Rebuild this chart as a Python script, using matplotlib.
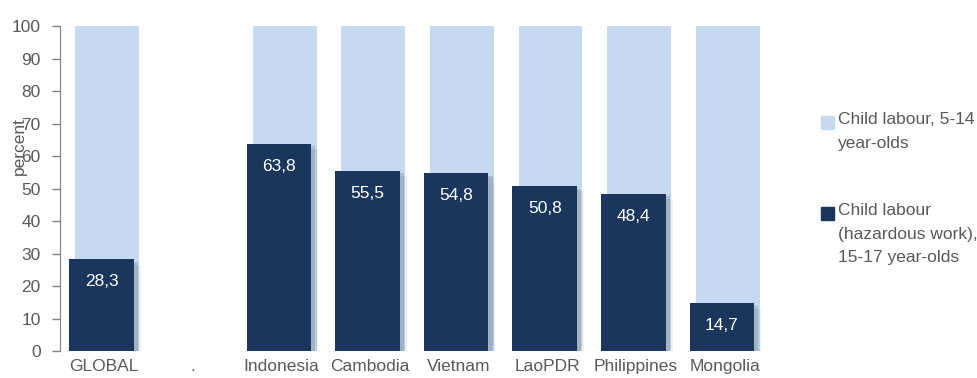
import matplotlib.pyplot as plt
import matplotlib.patheffects as pe
from matplotlib.patches import Rectangle
import numpy as np

plt.rcParams['font.family'] = ['Liberation Sans Narrow', 'Liberation Sans', 'DejaVu Sans']

countries = ['GLOBAL', '.', 'Indonesia', 'Cambodia', 'Vietnam', 'LaoPDR', 'Philippines', 'Mongolia']
child_labour_5_14 = [100, None, 100, 100, 100, 100, 100, 100]
hazardous_15_17 = [28.3, None, 63.8, 55.5, 54.8, 50.8, 48.4, 14.7]

LIGHT = '#c6d9f0'
DARK = '#1a365d'
GREY = '#595959'
FS = 12.5

fig = plt.figure(figsize=(9.77, 3.78), dpi=100)
ax = fig.add_axes([0.0614, 0.0714, 0.7256, 0.8598])

x = np.arange(len(countries))
idx = [i for i, v in enumerate(hazardous_15_17) if v is not None]
light = [child_labour_5_14[i] for i in idx]
dark = [hazardous_15_17[i] for i in idx]
xi = x[idx]

ax.bar(xi + 0.035, light, width=0.72, color=LIGHT, zorder=1)
bars = ax.bar(xi - 0.03, dark, width=0.73, color=DARK, zorder=2)
for b in bars:
    b.set_path_effects([pe.SimplePatchShadow(offset=(3, -2), shadow_rgbFace='#000000', alpha=0.12),
                        pe.SimplePatchShadow(offset=(5, -4), shadow_rgbFace='#000000', alpha=0.06),
                        pe.Normal()])

for xp, v in zip(xi, dark):
    ax.text(xp - 0.03, v - 7, f'{v:.1f}'.replace('.', ','), ha='center', va='center',
            color='white', fontsize=FS, zorder=3)

ax.set_xlim(-0.5, 7.5)
ax.set_ylim(0, 100)
ax.set_yticks(range(0, 101, 10))
ax.set_xticks(x)
ax.set_xticklabels(countries)
ax.tick_params(axis='x', length=0, pad=6, labelsize=FS, labelcolor=GREY)
ax.tick_params(axis='y', length=6, width=1, color='#808080', pad=8, labelsize=FS, labelcolor=GREY)
for s in ['top', 'right', 'bottom']:
    ax.spines[s].set_visible(False)
ax.spines['left'].set_color('#808080')
ax.set_ylabel('percent', fontsize=FS, color=GREY)
ax.yaxis.set_label_coords(-0.047, 0.63)

# legend drawn by hand so the squares sit beside the first line
W, H = 977, 378
entries = [(LIGHT, 'Child labour, 5-14\nyear-olds', 116),
           (DARK, 'Child labour\n(hazardous work),\n15-17 year-olds', 207)]
for col, label, ytop in entries:
    fig.patches.append(Rectangle((821 / W, 1 - (ytop + 13) / H), 13 / W, 13 / H,
                                 transform=fig.transFigure, color=col))
    fig.text(838 / W, 1 - (ytop - 4) / H, label, ha='left', va='top', fontsize=FS,
             color=GREY, linespacing=1.72)

fig.savefig('out.png', dpi=100)
